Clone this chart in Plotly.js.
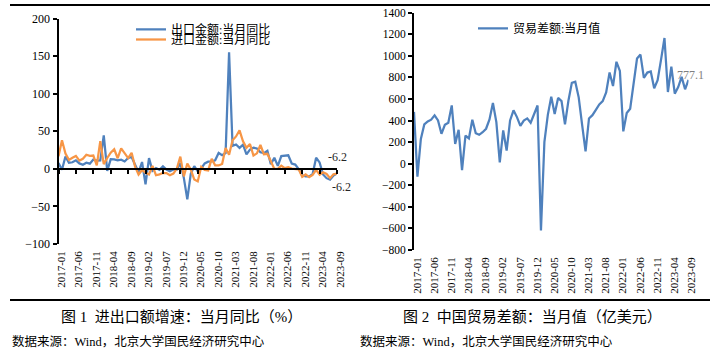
<!DOCTYPE html>
<html><head><meta charset="utf-8">
<script src="https://cdn.plot.ly/plotly-3.0.1.min.js"></script>
<style>html,body{margin:0;padding:0;background:#fff}#chart{width:721px;height:354px}</style>
</head><body><div id="chart"></div>
<script>
const months = [
'2017-01','2017-02','2017-03','2017-04','2017-05','2017-06','2017-07','2017-08','2017-09','2017-10','2017-11','2017-12',
'2018-01','2018-02','2018-03','2018-04','2018-05','2018-06','2018-07','2018-08','2018-09','2018-10','2018-11','2018-12',
'2019-01','2019-02','2019-03','2019-04','2019-05','2019-06','2019-07','2019-08','2019-09','2019-10','2019-11','2019-12',
'2020-01','2020-02','2020-03','2020-04','2020-05','2020-06','2020-07','2020-08','2020-09','2020-10','2020-11','2020-12',
'2021-01','2021-02','2021-03','2021-04','2021-05','2021-06','2021-07','2021-08','2021-09','2021-10','2021-11','2021-12',
'2022-01','2022-02','2022-03','2022-04','2022-05','2022-06','2022-07','2022-08','2022-09','2022-10','2022-11','2022-12',
'2023-01','2023-02','2023-03','2023-04','2023-05','2023-06','2023-07','2023-08','2023-09'];

const exportsYoY = [
7.9,-1.3,16.4,8.0,8.7,11.3,7.2,5.5,8.1,6.9,12.3,10.9,
11.1,44.5,-2.7,12.9,12.6,11.3,12.2,9.8,14.5,15.6,5.4,-4.4,
9.1,-20.7,14.2,-2.7,1.1,-1.3,3.3,-1.0,-3.2,-0.9,-1.1,7.6,
-12.0,-40.6,-6.6,3.5,-3.3,0.5,7.2,9.5,9.9,11.4,21.1,18.1,
21.0,154.9,30.6,32.3,27.9,32.2,19.3,25.6,28.1,27.1,22.0,20.9,
24.0,6.0,14.7,3.9,16.9,17.9,18.0,7.1,5.7,-0.3,-8.7,-9.9,
-10.0,-7.0,14.8,8.5,-7.5,-12.4,-14.5,-8.8,-6.2];

const importsYoY = [
16.7,38.1,20.3,11.9,14.8,17.2,11.0,13.3,18.7,17.2,17.7,4.5,
36.9,6.3,14.4,21.5,26.0,14.1,27.3,20.0,14.3,21.4,3.0,-7.6,
-1.5,-5.2,-7.6,4.0,-8.5,-7.3,-5.6,-5.6,-8.5,-6.4,0.3,16.3,
-10.0,7.0,-0.9,-14.2,-16.7,2.7,-1.4,-2.1,13.2,4.7,4.5,6.5,
27.6,18.7,38.1,43.1,51.1,36.7,28.1,33.1,17.6,20.6,31.7,19.5,
20.0,10.0,-0.1,0.0,4.1,1.0,2.3,0.3,0.3,-0.7,-10.6,-7.5,
-11.0,-8.0,-1.4,-7.9,-4.5,-6.8,-12.4,-7.3,-6.2];

const tradeBalance = [
480,-120,230,364,392,408,448,401,277,361,380,541,
184,314,-60,261,235,408,283,268,292,324,410,563,
386,12,308,121,401,495,432,350,400,420,380,470,
540,-620,200,453,620,460,610,580,365,584,750,760,
615,360,115,420,450,500,550,580,660,845,720,945,
860,300,470,510,750,975,1012,795,845,855,700,775,
965,1165,665,899,650,710,805,690,777.1];

const seriesNames = ['出口金额:当月同比','进口金额:当月同比','贸易差额:当月值'];
const captionLeft = '图 1  进出口额增速：当月同比（%）';
const captionRight = '图 2  中国贸易差额：当月值（亿美元）';
const sourceText = '数据来源：Wind，北京大学国民经济研究中心';
const tickStep = 5;

const idx = months.map((m,i)=>i);
const tickvals = idx.filter(i=>i%tickStep===0);
const ticktext = tickvals.map(i=>months[i]);
const last = idx.length-1;

const W=721,H=354;
const px=v=>v/W, py=v=>1-v/H;
const BLUE='#4F81BD', ORANGE='#F79646';
const SERIF='Liberation Serif, Noto Sans CJK SC';
const CJK='Noto Sans CJK SC';

const yL=[py(244),py(18.5)], yLr=[-100,200];
const yR=[py(250),py(12.7)], yRr=[-800,1400];
const zeroL = yL[0]+(yL[1]-yL[0])*(0-yLr[0])/(yLr[1]-yLr[0]);
const zeroR = yR[0]+(yR[1]-yR[0])*(0-yRr[0])/(yRr[1]-yRr[0]);

function labelAxis(dom, anchor){
  return {domain:dom, anchor:anchor, range:[0,last], tickvals:tickvals, ticktext:ticktext,
    tickangle:-90, ticks:'', showline:false, showgrid:false, zeroline:false,
    tickfont:{family:SERIF,size:11,color:'#000'}, ticklabelshift:3, ticklabelstandoff:4};
}
function zeroAxis(over, pos, dir, len, line){
  return {overlaying:over, anchor:'free', position:pos, range:[0,last], tickvals:tickvals,
    showticklabels:false, ticks:dir, ticklen:len, tickwidth:2, tickcolor:'#000',
    showline:line, linecolor:'#000', linewidth:2, showgrid:false, zeroline:false};
}

const traces = [
 {x:idx, y:exportsYoY, name:seriesNames[0], xaxis:'x', yaxis:'y', type:'scatter', mode:'lines',
  line:{color:BLUE,width:2.25}, legend:'legend'},
 {x:idx, y:importsYoY, name:seriesNames[1], xaxis:'x2', yaxis:'y', type:'scatter', mode:'lines',
  line:{color:ORANGE,width:2.25}, legend:'legend2'},
 {x:idx, y:tradeBalance, name:seriesNames[2], xaxis:'x4', yaxis:'y2', type:'scatter', mode:'lines',
  line:{color:BLUE,width:2.25}, legend:'legend3'}
];

function leg(x,y){
  return {x:x, y:y, xanchor:'left', yanchor:'middle', bgcolor:'rgba(0,0,0,0)', borderwidth:0,
    font:{family:SERIF,size:12,color:'#000'}};
}

const layout = {
  width:W, height:H, margin:{l:0,r:0,t:0,b:0}, paper_bgcolor:'#fff', plot_bgcolor:'rgba(0,0,0,0)',
  showlegend:true,
  legend:leg(px(131),py(29.3)), legend2:leg(px(131),py(39.5)), legend3:leg(px(473),py(28.3)),
  xaxis:labelAxis([px(58.5),px(337)],'y'),
  xaxis2:zeroAxis('x',zeroL,'outside',4,true),
  xaxis3:zeroAxis('x',zeroL,'inside',3,false),
  yaxis:{domain:yL, anchor:'x', range:yLr, dtick:50, showline:true, linecolor:'#000', linewidth:2,
    ticks:'outside', ticklen:4, tickwidth:2, tickcolor:'#000', showgrid:false, zeroline:false,
    tickfont:{family:SERIF,size:12,color:'#000'}},
  xaxis4:labelAxis([px(414),px(688.5)],'y2'),
  xaxis5:zeroAxis('x4',zeroR,'outside',4,true),
  xaxis6:zeroAxis('x4',zeroR,'inside',3,false),
  yaxis2:{domain:yR, anchor:'x4', range:yRr, dtick:200, showline:true, linecolor:'#000', linewidth:2,
    ticks:'outside', ticklen:4, tickwidth:2, tickcolor:'#000', showgrid:false, zeroline:false,
    tickfont:{family:SERIF,size:11.5,color:'#000'}},
  shapes:[
    {type:'line', xref:'paper', yref:'paper', x0:px(10), x1:px(710), y0:py(5), y1:py(5), line:{color:'#000',width:2}},
    {type:'line', xref:'paper', yref:'paper', x0:px(10), x1:px(710), y0:py(300), y1:py(300), line:{color:'#000',width:2}}
  ],
  annotations:[
    {xref:'x2', yref:'y', x:last, y:importsYoY[last], text:importsYoY[last].toFixed(1), showarrow:false,
     xanchor:'center', yanchor:'middle', yshift:16, xshift:0, font:{family:SERIF,size:12,color:'#262626'}},
    {xref:'x', yref:'y', x:last, y:exportsYoY[last], text:exportsYoY[last].toFixed(1), showarrow:false,
     xanchor:'center', yanchor:'middle', yshift:-14, xshift:4, font:{family:SERIF,size:12,color:'#262626'}},
    {xref:'x4', yref:'y2', x:last, y:tradeBalance[last], text:tradeBalance[last].toFixed(1), showarrow:false,
     xanchor:'center', yanchor:'middle', yshift:5, xshift:2, font:{family:SERIF,size:12,color:'#7f7f7f'}},
    {xref:'paper', yref:'paper', x:px(181), y:py(316.7), text:captionLeft, showarrow:false,
     xanchor:'center', yanchor:'middle', font:{family:SERIF,size:15,color:'#000'}},
    {xref:'paper', yref:'paper', x:px(532), y:py(316.7), text:captionRight, showarrow:false,
     xanchor:'center', yanchor:'middle', font:{family:SERIF,size:15,color:'#000'}},
    {xref:'paper', yref:'paper', x:px(10), y:py(341.7), text:sourceText, showarrow:false,
     xanchor:'left', yanchor:'middle', font:{family:SERIF,size:12.5,color:'#000'}},
    {xref:'paper', yref:'paper', x:px(358), y:py(341.7), text:sourceText, showarrow:false,
     xanchor:'left', yanchor:'middle', font:{family:SERIF,size:12.5,color:'#000'}}
  ]
};

Plotly.newPlot('chart', traces, layout, {staticPlot:true, displayModeBar:false});
</script></body></html>
